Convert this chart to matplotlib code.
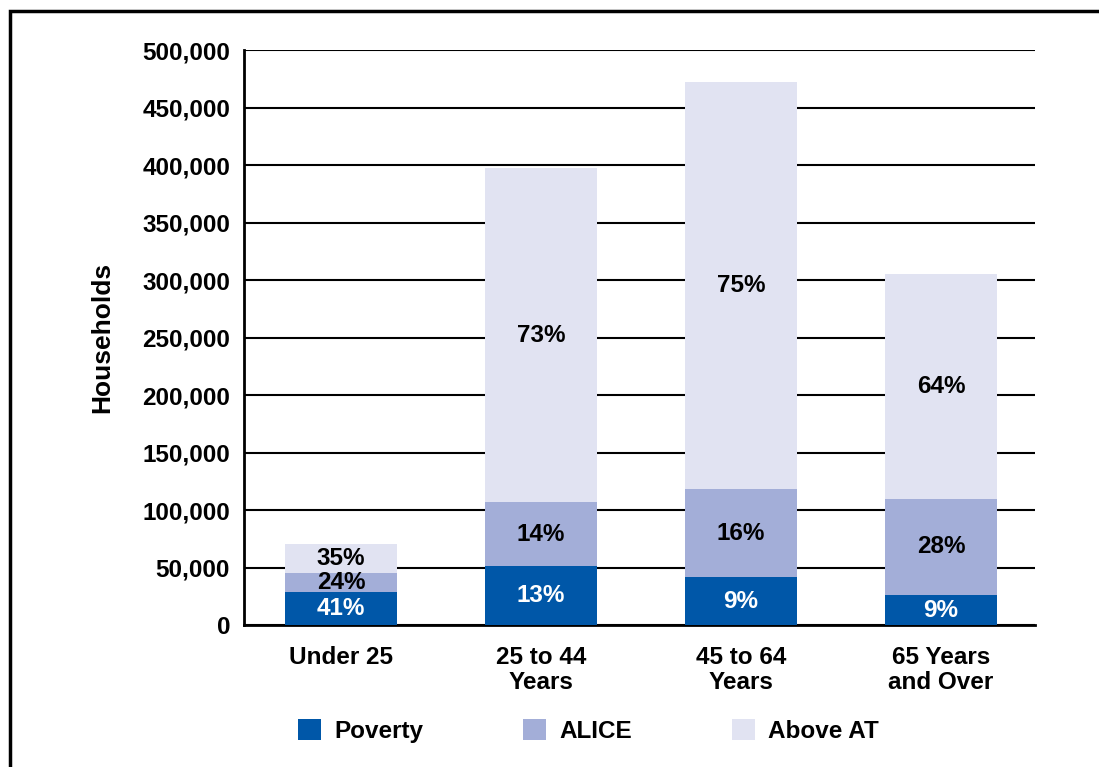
"""Households by age of householder, stacked by ALICE status."""

import matplotlib
matplotlib.use("Agg")
import matplotlib.pyplot as plt
import numpy as np
from matplotlib.patches import Rectangle, Patch
from matplotlib.ticker import FuncFormatter

plt.rcParams['font.family'] = ['Liberation Sans', 'DejaVu Sans']
plt.rcParams['font.weight'] = 'bold'

# --- Data ---
categories = ['Under 25', '25 to 44\nYears', '45 to 64\nYears', '65 Years\nand Over']
poverty = [28700, 51300, 41700, 26000]
alice = [16700, 55700, 76300, 84000]
above = [25000, 290000, 354000, 195000]
poverty_pct = ['41%', '13%', '9%', '9%']
alice_pct = ['24%', '14%', '16%', '28%']
above_pct = ['35%', '73%', '75%', '64%']

colors = {'Poverty': '#0057A8', 'ALICE': '#A3AED8', 'Above AT': '#E1E3F2'}
fs = 17.5

fig = plt.figure(figsize=(10.99, 7.67), dpi=100)
ax = fig.add_axes([0.222, 0.1851, 0.7198, 0.7497])

x = np.arange(len(categories))
w = 0.56
p = np.array(poverty)
a = np.array(alice)
b = np.array(above)

ax.bar(x, p, w, color=colors['Poverty'], zorder=3)
ax.bar(x, a, w, bottom=p, color=colors['ALICE'], zorder=3)
ax.bar(x, b, w, bottom=p + a, color=colors['Above AT'], zorder=3)

for i in range(len(x)):
    ax.text(x[i], p[i] / 2, poverty_pct[i], ha='center', va='center',
            color='white', fontsize=fs, fontweight='bold', zorder=4)
    ax.text(x[i], p[i] + a[i] / 2, alice_pct[i], ha='center', va='center',
            color='black', fontsize=fs, fontweight='bold', zorder=4)
    ax.text(x[i], p[i] + a[i] + b[i] / 2, above_pct[i], ha='center', va='center',
            color='black', fontsize=fs, fontweight='bold', zorder=4)

ax.set_xlim(-0.485, 3.47)
ax.set_ylim(0, 500000)
ax.set_yticks(np.arange(0, 500001, 50000))
ax.yaxis.set_major_formatter(FuncFormatter(lambda v, _: f'{int(v):,}'))
ax.yaxis.grid(True, color='black', linewidth=1.5, zorder=1)
ax.set_axisbelow(True)

ax.set_xticks(x)
ax.set_xticklabels(categories, fontsize=fs, fontweight='bold', linespacing=1.1)
ax.tick_params(axis='y', length=0, pad=10, labelsize=fs)
ax.tick_params(axis='x', length=0, pad=15)
for lab in ax.get_yticklabels():
    lab.set_fontweight('bold')

for side in ['top', 'right']:
    ax.spines[side].set_visible(False)
for side in ['left', 'bottom']:
    ax.spines[side].set_linewidth(2)
    ax.spines[side].set_color('black')

ax.set_ylabel('Households', fontsize=19, fontweight='bold', labelpad=20)

handles = [Patch(facecolor=c, edgecolor='none') for c in colors.values()]
fig.legend(handles, list(colors.keys()), loc='center', ncol=3,
           bbox_to_anchor=(0.5355, 0.047), frameon=False,
           prop={'size': fs, 'weight': 'bold'},
           handlelength=0.95, handleheight=0.95, columnspacing=4.1,
           handletextpad=0.55)

# outer frame (runs off the right and bottom edges)
fig.patches.append(Rectangle((10 / 1099, -0.05), 1.2, 1 - 11 / 767 + 0.05,
                             transform=fig.transFigure, fill=False,
                             edgecolor='black', linewidth=2.5))

fig.savefig('out.png', dpi=100, facecolor='white')
